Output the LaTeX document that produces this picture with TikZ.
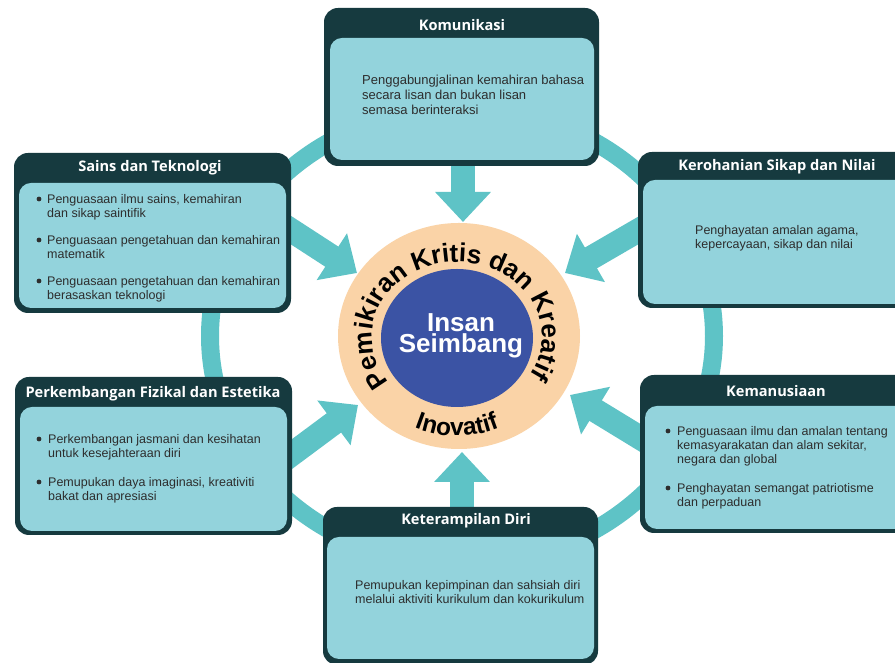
\documentclass[tikz,border=0pt]{standalone}
\usepackage{fontspec}
\setmainfont{Liberation Sans}
\newfontfamily\tfont{Open Sans}
\usetikzlibrary{arrows.meta,shapes.geometric,decorations.text}
\definecolor{boxdark}{RGB}{22,58,63}
\definecolor{boxcyan}{RGB}{147,211,220}
\definecolor{ringteal}{RGB}{94,195,198}
\definecolor{peach}{RGB}{250,211,167}
\definecolor{deepblue}{RGB}{59,83,164}
\definecolor{bodygray}{RGB}{45,45,45}
\tikzset{
  outerbox/.style={fill=boxdark, rounded corners=14pt, inner sep=0pt, draw=none},
  innerbox/.style={fill=boxcyan, rounded corners=12pt, inner sep=0pt, draw=none},
  boxtitle/.style={font=\tfont\bfseries\fontsize{14.6}{16}\selectfont, text=white, inner sep=0pt},
  btext/.style={font=\fontsize{12.5}{14}\selectfont, text=bodygray, align=left, anchor=north west, inner sep=0pt},
  bdot/.style={fill=bodygray},
  ringline/.style={draw=ringteal, line width=18pt},
  blockarrow/.style={draw=ringteal, line width=24pt, -{Triangle[width=54pt,length=30pt]}},
}
\begin{document}
\begin{tikzpicture}[x=1pt,y=1pt]
\clip (0,0) rectangle (895,663);
\fill[white] (0,0) rectangle (895,663);
% ring
\coordinate (ringc) at (462,327);
\draw[ringline] (ringc) ellipse [x radius=252, y radius=228];
% arrow end points
\coordinate (a1s) at (463,503); \coordinate (a1t) at (463,441);
\coordinate (a2s) at (462,151); \coordinate (a2t) at (462,211);
\coordinate (a3s) at (283,438); \coordinate (a3t) at (357,390);
\coordinate (a4s) at (646,437); \coordinate (a4t) at (565,390);
\coordinate (a5s) at (284,203); \coordinate (a5t) at (358,258);
\coordinate (a6s) at (647,221); \coordinate (a6t) at (570,268);
\draw[blockarrow] (a1s) -- (a1t);
\draw[blockarrow] (a2s) -- (a2t);
\draw[blockarrow] (a3s) -- (a3t);
\draw[blockarrow] (a4s) -- (a4t);
\draw[blockarrow] (a5s) -- (a5t);
\draw[blockarrow] (a6s) -- (a6t);
% Komunikasi
\node[outerbox, minimum width=275, minimum height=158] (kom) at (461.5,576) {};
\node[innerbox, minimum width=264, minimum height=122] (komin) at (462,564) {};
\node[boxtitle] (komt) at (462,638) {Komunikasi};
\node[btext, font=\fontsize{13}{15}\selectfont] (komb) at (362,589) {\strut Penggabungjalinan kemahiran bahasa\\secara lisan dan bukan lisan\\semasa berinteraksi};
% Sains dan Teknologi
\node[outerbox, minimum width=277, minimum height=160] (sains) at (152.5,430) {};
\node[innerbox, minimum width=267, minimum height=125] (sainsin) at (152.5,417.5) {};
\node[boxtitle] (sainst) at (150,495) {Sains dan Teknologi};
\fill[bdot] (39,464) circle (2.4);
\node[btext] (s1) at (47,469.8) {\strut Penguasaan ilmu sains, kemahiran\\dan sikap saintifik};
\fill[bdot] (39,423) circle (2.4);
\node[btext] (s2) at (47,428.8) {\strut Penguasaan pengetahuan dan kemahiran\\matematik};
\fill[bdot] (39,382) circle (2.4);
\node[btext] (s3) at (47,387.8) {\strut Penguasaan pengetahuan dan kemahiran\\berasaskan teknologi};
% Kerohanian
\node[outerbox, minimum width=278, minimum height=156] (ker) at (777,433) {};
\node[innerbox, minimum width=268, minimum height=124] (kerin) at (777,421) {};
\node[boxtitle] (kert) at (777,496) {Kerohanian Sikap dan Nilai};
\node[btext] (kerb) at (695,438.8) {\strut Penghayatan amalan agama,\\kepercayaan, sikap dan nilai};
% Perkembangan
\node[outerbox, minimum width=277, minimum height=158] (per) at (153.5,207) {};
\node[innerbox, minimum width=267, minimum height=124] (perin) at (153.5,194) {};
\node[boxtitle] (pert) at (153,269) {Perkembangan Fizikal dan Estetika};
\fill[bdot] (39,224) circle (2.4);
\node[btext] (p1) at (48,229.8) {\strut Perkembangan jasmani dan kesihatan\\untuk kesejahteraan diri};
\fill[bdot] (39,181) circle (2.4);
\node[btext] (p2) at (48,186.8) {\strut Pemupukan daya imaginasi, kreativiti\\bakat dan apresiasi};
% Kemanusiaan
\node[outerbox, minimum width=274, minimum height=158] (kem) at (777,209) {};
\node[innerbox, minimum width=264, minimum height=123] (kemin) at (777,195.5) {};
\node[boxtitle] (kemt) at (776,272) {Kemanusiaan};
\fill[bdot] (668,232) circle (2.4);
\node[btext] (k1) at (677,237.8) {\strut Penguasaan ilmu dan amalan tentang\\kemasyarakatan dan alam sekitar,\\negara dan global};
\fill[bdot] (668,175) circle (2.4);
\node[btext] (k2) at (677,180.8) {\strut Penghayatan semangat patriotisme\\dan perpaduan};
% Keterampilan Diri
\node[outerbox, minimum width=275, minimum height=158] (ket) at (460.5,77) {};
\node[innerbox, minimum width=267, minimum height=122] (ketin) at (460.5,65) {};
\node[boxtitle] (kett) at (466,142) {Keterampilan Diri};
\node[btext] (ketb) at (355,83.8) {\strut Pemupukan kepimpinan dan sahsiah diri\\melalui aktiviti kurikulum dan kokurikulum};
% centre
\node[ellipse, fill=peach, minimum width=242, minimum height=226, inner sep=0pt] (orange) at (459,327) {};
\node[ellipse, fill=deepblue, minimum width=152, minimum height=138, inner sep=0pt] (blue) at (457,325) {};
\node[font=\bfseries\fontsize{26}{21}\selectfont, text=white, align=center, inner sep=0pt] (insan) at (461,327) {Insan\\Seimbang};
\coordinate (cen) at (457,326);
\path[decorate, decoration={text along path, text align=center,
  text={|\bfseries\fontsize{26}{26}\selectfont|Pemikiran Kritis dan Kreatif}}]
  (cen) ++(224:85 and 75) arc[start angle=224, end angle=-38, x radius=85, y radius=75];
\path[decorate, decoration={text along path, text align=center,
  text={|\bfseries\fontsize{24.5}{24.5}\selectfont|Inovatif}}]
  (cen) ++(232:107 and 99) arc[start angle=232, end angle=308, x radius=107, y radius=99];
\end{tikzpicture}
\end{document}
